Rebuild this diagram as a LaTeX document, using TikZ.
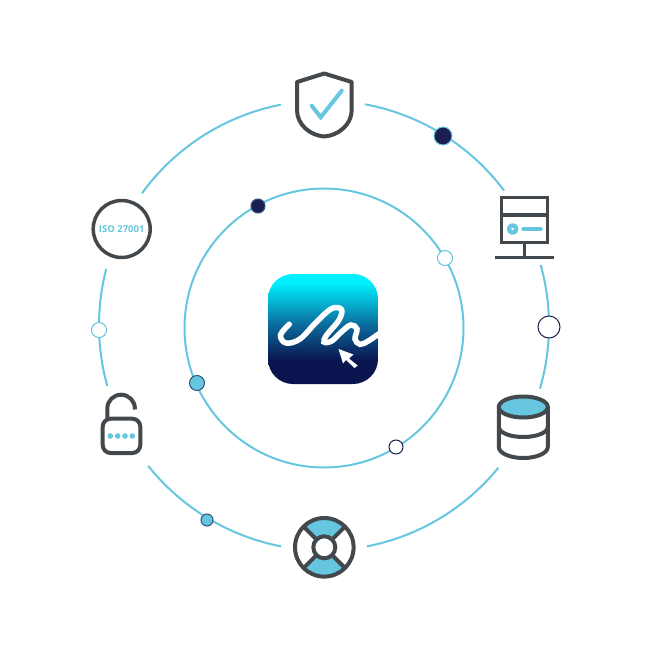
\documentclass[tikz,border=0pt]{standalone}
\usepackage{fontspec}
\newfontfamily\isofont{Open Sans}
\definecolor{ringblue}{HTML}{66C6E0}
\definecolor{icongray}{HTML}{43484D}
\definecolor{navydot}{HTML}{1B1F4F}
\definecolor{logonavy}{HTML}{0A1550}
\definecolor{logomid}{HTML}{0A6C9C}
\definecolor{logocyan}{HTML}{00F0FF}
\pgfdeclareverticalshading{logoshade}{100bp}{color(0bp)=(logonavy); color(36bp)=(logonavy); color(52bp)=(logomid); color(71bp)=(logocyan); color(100bp)=(logocyan)}

\begin{document}
\begin{tikzpicture}[x=1pt,y=1pt]
\tikzstyle{ring}=[draw=ringblue,line width=2pt]
\tikzstyle{icon}=[draw=icongray,line width=4pt]
\tikzstyle{accent}=[draw=ringblue,line width=4pt]
\tikzstyle{dot}=[circle,inner sep=0pt,line width=1pt]
\useasboundingbox (0,0) rectangle (651,-651);
\draw[ring] (324,-328) circle (139.5pt);
\begin{scope}[shift={(324,-325.5)}]
    \foreach \a/\b in {36.8/79.5,-16.3/15.6,-79/-39.2,-141.4/-101,165.5/195.6,101/144}
        \draw[ring] (\a:225pt) arc[start angle=\a,end angle=\b,radius=225pt];
\end{scope}
\node [dot,draw=ringblue,fill=navydot,minimum size=18pt] (dottopright) at (443,-136) {};
\node [dot,draw=navydot,fill=white,minimum size=22pt] (dotright) at (549,-327) {};
\node [dot,draw=ringblue,fill=white,minimum size=15pt] (dotleft) at (99,-330) {};
\node [dot,draw=navydot!70!ringblue,fill=ringblue,minimum size=12pt] (dotbottom) at (207,-520) {};
\node [dot,draw=navydot!70!ringblue,fill=navydot,minimum size=14pt] (dotinnera) at (258,-206) {};
\node [dot,draw=ringblue,fill=white,minimum size=15pt] (dotinnerb) at (445,-258) {};
\node [dot,draw=navydot!70!ringblue,fill=ringblue,minimum size=15pt] (dotinnerc) at (197,-383) {};
\node [dot,draw=navydot,fill=white,minimum size=14pt] (dotinnerd) at (396,-447) {};
% logo
\begin{scope}
    \path[clip,rounded corners=25pt] (268,-274) rectangle (378,-384);
    \shade[shading=logoshade] (268,-274) rectangle (378,-384);
    \draw[white,line width=5.5pt,line cap=round] plot[smooth,tension=0.6] coordinates {(289.3,-324.3) (280.5,-335) (286,-343) (300,-339) (316.7,-321.7) (331.7,-308.5) (341.5,-309.5) (339,-320) (326.7,-335) (324,-342) (331.7,-341) (341.7,-331.7) (350.7,-325) (357,-329) (355,-339) (360,-344.3) (368.3,-341) (380,-333)};
    \fill[white] (338.5,-349) -- (353.5,-354.5) -- (349,-358.5) -- (357.7,-365.5) -- (354.5,-368) -- (346,-360) -- (343,-363.5) -- cycle;
\end{scope}
% shield
\draw[icon,line join=round] (324.3,-73.5) -- (351.7,-82) -- (351.7,-110) .. controls (351.7,-125) and (338,-135.5) .. (324.3,-136.5) .. controls (310.5,-135.5) and (297,-125) .. (297,-110) -- (297,-82) -- cycle;
\draw[accent,line cap=round,line join=miter] (311.7,-105.7) -- (320.7,-117.3) -- (341.7,-90.7);
% server
\draw[icon,line width=3.5pt] (501.7,-197.3) rectangle (547.3,-242.3);
\draw[icon,line width=3.5pt] (501.7,-215) -- (547.3,-215);
\draw[icon,line width=3.5pt] (524.3,-242.3) -- (524.3,-257.7);
\draw[icon,line width=3.5pt] (495,-257.7) -- (554,-257.7);
\fill[ringblue] (512.7,-229) circle (5.7pt);
\fill[white] (512.7,-229) circle (1.5pt);
\draw[accent,line width=3.5pt,line cap=round] (523,-229) -- (541,-229);
% database
\begin{scope}[shift={(523.3,-407)}]
    \draw[icon,fill=ringblue] (0,0) ellipse [x radius=24.5pt,y radius=10.5pt];
    \draw[icon,line cap=round] (-24.5,0) -- (-24.5,-40) arc[start angle=180,end angle=360,x radius=24.5pt,y radius=11pt] -- (24.5,0);
    \draw[icon] (-24.5,-20) arc[start angle=180,end angle=360,x radius=24.5pt,y radius=10pt];
\end{scope}
% lifebuoy
\begin{scope}[shift={(324.3,-547.3)}]
    \fill[ringblue] (45:29pt) arc[start angle=45,end angle=135,radius=29pt] -- (135:11pt) arc[start angle=135,end angle=45,radius=11pt] -- cycle;
    \fill[ringblue] (225:29pt) arc[start angle=225,end angle=315,radius=29pt] -- (315:11pt) arc[start angle=315,end angle=225,radius=11pt] -- cycle;
    \foreach \a in {45,135,225,315}
        \draw[icon] (\a:11pt) -- (\a:29pt);
    \draw[icon] (0,0) circle (29.3pt);
    \draw[icon] (0,0) circle (11pt);
\end{scope}
% lock
\draw[icon,rounded corners=8pt] (102.7,-418.7) rectangle (140.3,-453);
\draw[icon] (107.3,-418) -- (107.3,-408.5) arc[start angle=180,end angle=0,radius=13.8pt] -- (135,-409.5);
\foreach \x in {110.3,117.7,125,132.3}
    \fill[ringblue] (\x,-436) circle (2.8pt);
% iso
\node [circle,draw=icongray,line width=3.5pt,minimum size=57pt,inner sep=0pt,text=ringblue,font=\isofont\bfseries\fontsize{9.5}{11}\selectfont] (iso) at (121.7,-229) {ISO 27001};
\end{tikzpicture}
\end{document}
